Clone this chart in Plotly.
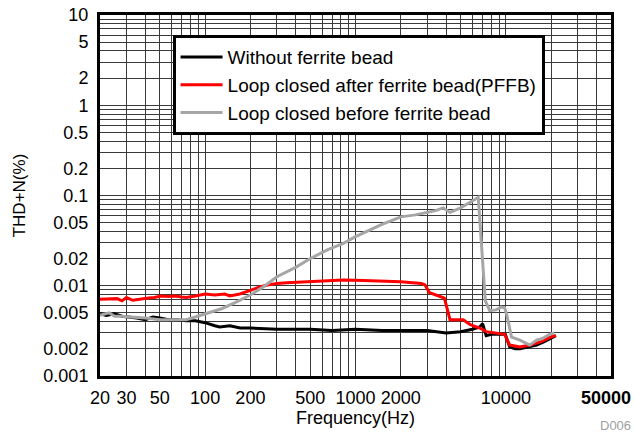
import plotly.graph_objects as go

# ---------------- data ----------------
black_f = [20, 22, 25, 28, 31, 35, 40, 45, 50, 57, 65, 75, 86, 100, 116, 125, 146, 171, 200, 256,
           300, 400, 500, 700, 900, 1000, 1500, 2000, 3000, 4000, 5000, 6000, 6700, 7000, 7400,
           8000, 8600, 9900, 10600, 11500, 12400, 14000, 16000, 18000, 20000, 21500]
black_v = [0.0049, 0.0047, 0.0049, 0.0046, 0.0045, 0.0044, 0.0042, 0.0045, 0.0044, 0.0042, 0.0042,
           0.0041, 0.0041, 0.0039, 0.0036, 0.0035, 0.0036, 0.0034, 0.0034, 0.0033, 0.0033, 0.0033,
           0.0033, 0.0032, 0.0033, 0.0033, 0.0032, 0.0032, 0.0032, 0.0030, 0.0031, 0.0033, 0.0035,
           0.0038, 0.0028, 0.0029, 0.0029, 0.0029, 0.0021, 0.0020, 0.0020, 0.0021, 0.0022, 0.0024,
           0.0026, 0.0028]

red_f = [20, 23, 26, 28, 30, 33, 38, 42, 46, 51, 57, 63, 70, 75, 86, 100, 116, 135, 146, 170, 200,
         230, 260, 300, 350, 420, 550, 830, 1000, 1250, 1600, 2000, 2400, 2750, 2900, 3100, 3500,
         3900, 4250, 5200, 5800, 6700, 7400, 8500, 9800, 10600, 12400, 14500, 17200, 19800, 21500]
red_v = [0.0071, 0.0071, 0.0072, 0.0068, 0.0074, 0.0069, 0.0072, 0.0073, 0.0074, 0.0077, 0.0076,
         0.0077, 0.0075, 0.0074, 0.0077, 0.0081, 0.0079, 0.0081, 0.0077, 0.0081, 0.0089, 0.0097,
         0.0102, 0.0106, 0.0108, 0.0110, 0.0112, 0.0116, 0.0115, 0.0113, 0.0112, 0.0111, 0.0109,
         0.0106, 0.0102, 0.0084, 0.0078, 0.0073, 0.0042, 0.0042, 0.0037, 0.0034, 0.0031, 0.0030,
         0.0029, 0.0022, 0.0021, 0.0022, 0.0024, 0.0027, 0.0028]

gray_f = [20, 23, 25, 28, 32, 40, 50, 60, 75, 86, 100, 130, 158, 200, 250, 300, 400, 500, 650, 830,
          1000, 1250, 1500, 2000, 2500, 3000, 3400, 3830, 4250, 5000, 5800, 6550, 7300, 7800, 8600,
          9300, 9800, 10100, 10900, 12400, 14400, 16000, 17500, 19500, 21000]
gray_v = [0.0047, 0.0050, 0.0046, 0.0046, 0.0045, 0.0044, 0.0042, 0.0042, 0.0042, 0.0045, 0.0049,
          0.0056, 0.0065, 0.0079, 0.0100, 0.0126, 0.0160, 0.0200, 0.0250, 0.0295, 0.0350, 0.0415,
          0.0480, 0.0580, 0.0610, 0.0650, 0.0680, 0.0730, 0.0650, 0.0730, 0.0840, 0.0950, 0.0068,
          0.0053, 0.0054, 0.0058, 0.0057, 0.0049, 0.0027, 0.0025, 0.0022, 0.0025, 0.0026, 0.0029,
          0.0030]

series_names = ["Without ferrite bead", "Loop closed after ferrite bead(PFFB)",
                "Loop closed before ferrite bead"]
series_colors = ["#000000", "#FF0000", "#A6A6A6"]

x_grid = [20, 30, 40, 50, 60, 70, 80, 90, 100, 200, 300, 400, 500, 600, 700, 800, 900,
          1000, 2000, 3000, 4000, 5000, 6000, 7000, 8000, 9000, 10000, 20000, 30000, 40000, 50000]
x_labels = [20, 30, 50, 100, 200, 500, 1000, 2000, 10000]
x_last_label = "50000"   # drawn right-aligned at the axis end so it is not clipped

y_grid = [m * 10 ** e for e in range(-3, 1) for m in range(1, 10)] + [10]
y_labels = ["0.001", "0.002", "0.005", "0.01", "0.02", "0.05", "0.1", "0.2", "0.5", "1", "2", "5", "10"]

FONT = "Arial, Liberation Sans, sans-serif"

x_text = [str(v) if v in x_labels else "" for v in x_grid]
y_text = []
for v in y_grid:
    s = ("%.3f" % v).rstrip("0").rstrip(".")
    y_text.append(s if s in y_labels else "")

fig = go.Figure()
for f, v, n, c in [(black_f, black_v, series_names[0], series_colors[0]),
                   (red_f, red_v, series_names[1], series_colors[1]),
                   (gray_f, gray_v, series_names[2], series_colors[2])]:
    fig.add_trace(go.Scatter(x=f, y=v, mode="lines", name=n,
                             line=dict(color=c, width=3)))

fig.update_layout(
    width=634, height=436,
    margin=dict(l=100, r=23, t=15, b=60),
    paper_bgcolor="white", plot_bgcolor="white",
    font=dict(family=FONT, size=18, color="black"),
    showlegend=True,
    legend=dict(x=0.142, y=0.944, xanchor="left", yanchor="top",
                bgcolor="white", bordercolor="black", borderwidth=3,
                font=dict(family=FONT, size=19), tracegroupgap=0,
                itemwidth=42),
    xaxis=dict(type="log", range=[1.30102, 4.69899],
               tickmode="array", tickvals=x_grid, ticktext=x_text,
               showgrid=True, gridcolor="#3a3a3a", gridwidth=1,
               showline=True, linecolor="black", linewidth=3, mirror=True,
               ticks="", ticklabelstandoff=3, automargin=False,
               ticklabeloverflow="allow",
               title=dict(text="Frequency(Hz)", font=dict(size=18), standoff=0),
               zeroline=False),
    yaxis=dict(type="log", range=[-3, 1],
               tickmode="array", tickvals=y_grid, ticktext=y_text,
               showgrid=True, gridcolor="#3a3a3a", gridwidth=1,
               showline=True, linecolor="black", linewidth=3, mirror=True,
               ticks="", ticklabelstandoff=5, automargin=False,
               ticklabeloverflow="allow",
               title=dict(text="THD+N(%)", font=dict(size=17), standoff=14),
               zeroline=False),
)

fig.add_annotation(text="<b>" + x_last_label + "</b>", xref="paper", yref="paper",
                   x=1.043, y=-0.061, xanchor="right", yanchor="middle", showarrow=False,
                   font=dict(family=FONT, size=18, color="black"))
fig.add_annotation(text="D006", xref="paper", yref="paper", x=1.043, y=-0.136,
                   xanchor="right", yanchor="middle", showarrow=False,
                   font=dict(family=FONT, size=13, color="#A0A0A0"))

fig.write_html("out.html", config={"displayModeBar": False},
               post_script="document.body.style.margin='0px';")
